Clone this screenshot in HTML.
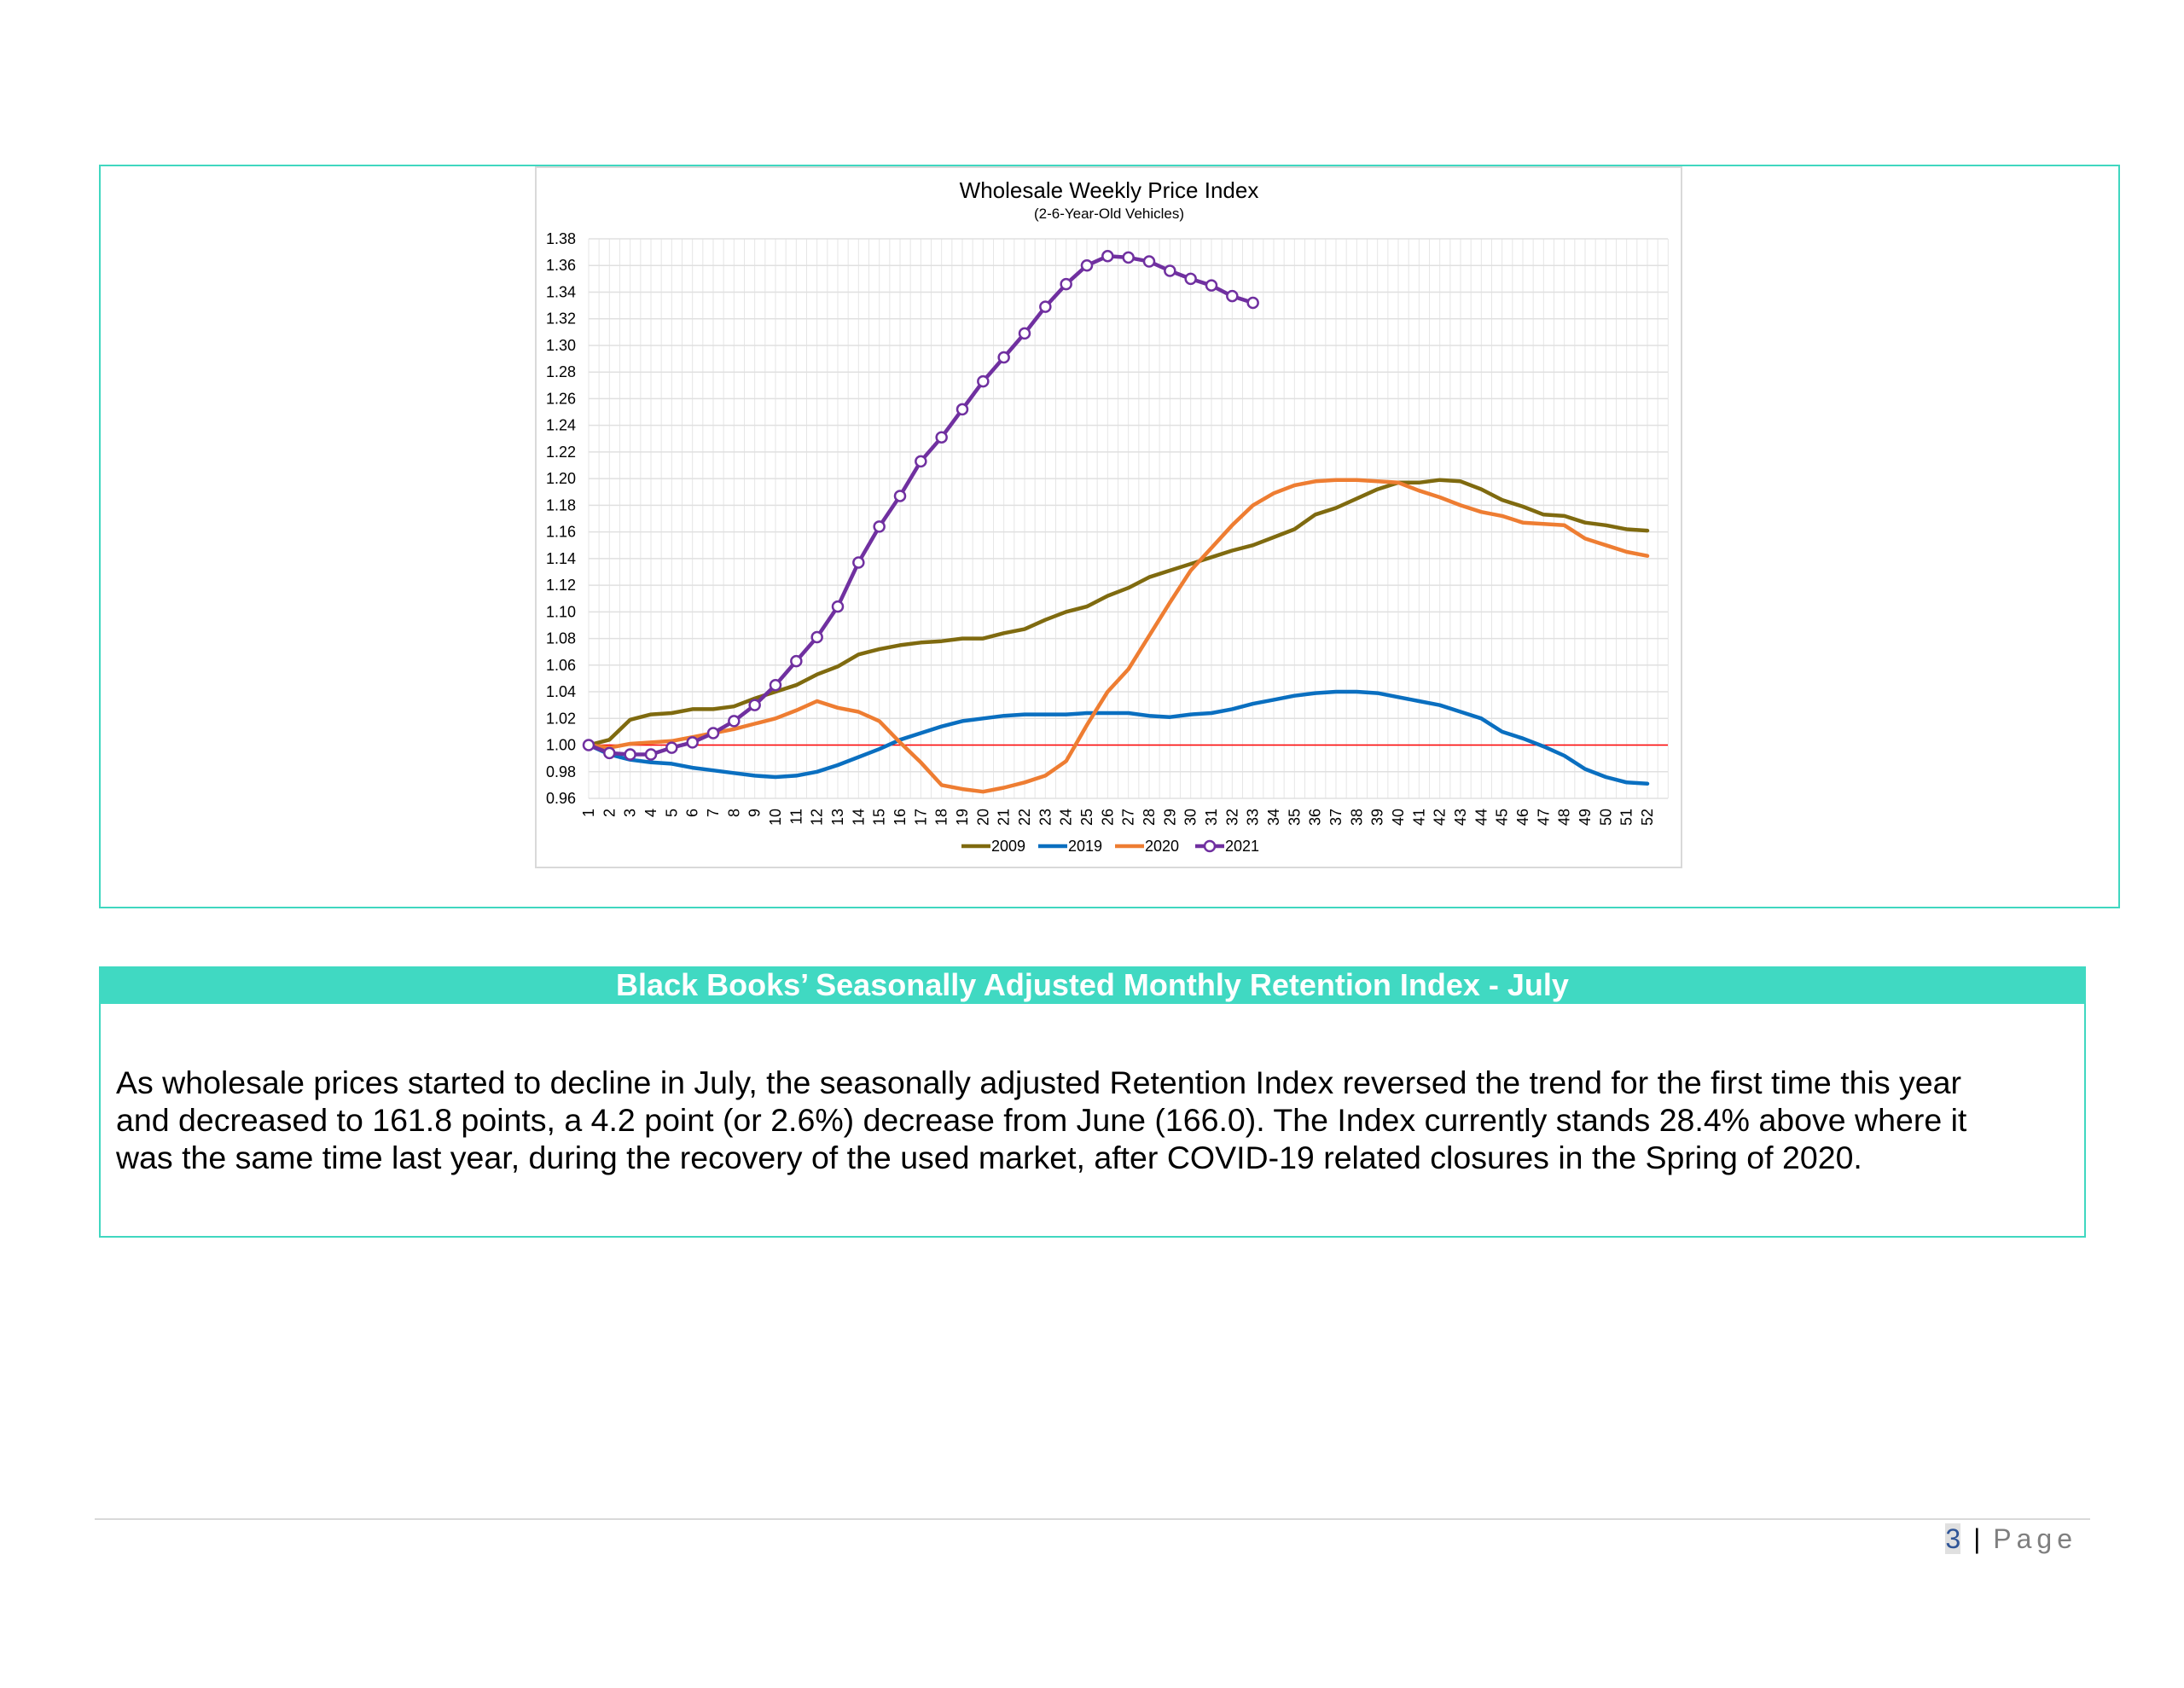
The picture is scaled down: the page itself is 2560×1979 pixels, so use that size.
<!DOCTYPE html>
<html><head><meta charset="utf-8"><style>
html,body{margin:0;padding:0;background:#fff;}
body{width:2560px;height:1979px;position:relative;overflow:hidden;font-family:"Liberation Sans",Arial,sans-serif;}
.abs{position:absolute;}
</style></head><body>
<div class="abs" style="left:116px;top:193px;width:2365px;height:868px;border:2px solid #40d7c0;"></div>
<svg class="abs" style="left:0;top:0" width="2560" height="1979">
<rect x="628" y="196" width="1343" height="821" fill="#fff" stroke="#d9d9d9" stroke-width="2"/>
<text x="1300" y="232" text-anchor="middle" font-size="26" fill="#000">Wholesale Weekly Price Index</text>
<text x="1300" y="256" text-anchor="middle" font-size="17" fill="#000">(2-6-Year-Old Vehicles)</text>
<g id="grid"></g><g id="axes"></g><g id="series"></g><g id="legend"></g>
</svg>
<div class="abs" style="left:116px;top:1133px;width:2329px;height:44px;background:#40d9c2;color:#fff;font-weight:bold;font-size:36px;text-align:center;line-height:44px;">Black Books’ Seasonally Adjusted Monthly Retention Index - July</div>
<div class="abs" style="left:116px;top:1177px;width:2325px;height:272px;border:2px solid #40d7c0;border-top:none;"></div>
<div class="abs" style="left:136px;top:1247px;width:2400px;font-size:37.5px;line-height:44px;color:#000;white-space:nowrap;">As wholesale prices started to decline in July, the seasonally adjusted Retention Index reversed the trend for the first time this year<br>and decreased to 161.8 points, a 4.2 point (or 2.6%) decrease from June (166.0). The Index currently stands 28.4% above where it<br>was the same time last year, during the recovery of the used market, after COVID-19 related closures in the Spring of 2020.</div>
<div class="abs" style="left:111px;top:1780px;width:2339px;height:2px;background:#d9d9d9;"></div>
<div class="abs" style="right:125px;top:1786px;font-size:32px;color:#7f7f7f;letter-spacing:6px;"><span style="color:#2f5597;background:#e0e0e0;letter-spacing:0">3</span> <span style="color:#000;letter-spacing:0">|</span> Page</div>
<script>
const weeks = Array.from({length:52},(_,i)=>i+1);
const yTicks = [0.96,0.98,1.00,1.02,1.04,1.06,1.08,1.10,1.12,1.14,1.16,1.18,1.20,1.22,1.24,1.26,1.28,1.30,1.32,1.34,1.36,1.38];
const s2009 = [1.000,1.004,1.019,1.023,1.024,1.027,1.027,1.029,1.035,1.040,1.045,1.053,1.059,1.068,1.072,1.075,1.077,1.078,1.080,1.080,1.084,1.087,1.094,1.100,1.104,1.112,1.118,1.126,1.131,1.136,1.141,1.146,1.150,1.156,1.162,1.173,1.178,1.185,1.192,1.197,1.197,1.199,1.198,1.192,1.184,1.179,1.173,1.172,1.167,1.165,1.162,1.161];
const s2019 = [1.000,0.993,0.989,0.987,0.986,0.983,0.981,0.979,0.977,0.976,0.977,0.980,0.985,0.991,0.997,1.004,1.009,1.014,1.018,1.020,1.022,1.023,1.023,1.023,1.024,1.024,1.024,1.022,1.021,1.023,1.024,1.027,1.031,1.034,1.037,1.039,1.040,1.040,1.039,1.036,1.033,1.030,1.025,1.020,1.010,1.005,0.999,0.992,0.982,0.976,0.972,0.971];
const s2020 = [1.000,0.998,1.001,1.002,1.003,1.006,1.009,1.012,1.016,1.020,1.026,1.033,1.028,1.025,1.018,1.002,0.987,0.970,0.967,0.965,0.968,0.972,0.977,0.988,1.015,1.040,1.057,1.082,1.107,1.131,1.148,1.165,1.180,1.189,1.195,1.198,1.199,1.199,1.198,1.197,1.191,1.186,1.180,1.175,1.172,1.167,1.166,1.165,1.155,1.150,1.145,1.142];
const s2021 = [1.000,0.994,0.993,0.993,0.998,1.002,1.009,1.018,1.030,1.045,1.063,1.081,1.104,1.137,1.164,1.187,1.213,1.231,1.252,1.273,1.291,1.309,1.329,1.346,1.360,1.367,1.366,1.363,1.356,1.350,1.345,1.337,1.332];
const seriesNames = ['2009','2019','2020','2021'];
const NS='http://www.w3.org/2000/svg';
const X0=690, X1=1931, Y0=936, Y1=280, VMIN=0.96, VMAX=1.38;
const xs = w => X0 + (w-1)*(X1-X0)/51;
const ys = v => Y0 - (v-VMIN)*(Y0-Y1)/(VMAX-VMIN);
function mk(tag, attrs, parent){const e=document.createElementNS(NS,tag);for(const k in attrs)e.setAttribute(k,attrs[k]);parent.appendChild(e);return e;}
const grid=document.getElementById('grid'), axes=document.getElementById('axes'), ser=document.getElementById('series'), leg=document.getElementById('legend');
const plotR = xs(52)+24;
for(let i=0;i<=106;i++){const x=X0+i*(X1-X0)/102; if(x>plotR+0.5)break;
  const l=mk('line',{x1:x,x2:x,y1:Y1,y2:Y0,stroke:'#e6e6e6','stroke-width':1},grid);
  
  }
yTicks.forEach(t=>{
  const l=mk('line',{x1:X0,x2:plotR,y1:ys(t),y2:ys(t),stroke:'#e0e0e0','stroke-width':1.5},grid);
  
  
  const tx=mk('text',{x:675,y:ys(t)+6,'text-anchor':'end','font-size':18,fill:'#000'},axes);
  tx.textContent=t.toFixed(2);
  
  
});
const ref=mk('line',{x1:X0,x2:plotR,y1:ys(1),y2:ys(1),stroke:'#ff0000','stroke-width':1.5},axes);


weeks.forEach(w=>{
  const tx=mk('text',{transform:`translate(${xs(w)+6},948) rotate(-90)`,'text-anchor':'end','font-size':18,fill:'#000'},axes);
  tx.textContent=w;
  
  
});
function line(data,color,name){
  const pts=data.map((v,i)=>xs(i+1).toFixed(1)+','+ys(v).toFixed(1)).join(' ');
  const p=mk('polyline',{points:pts,fill:'none',stroke:color,'stroke-width':4.5,'stroke-linejoin':'round','stroke-linecap':'round'},ser);
  
  
}
line(s2009,'#7f6a0f','line-2009');
line(s2019,'#0a6fc0','line-2019');
line(s2020,'#ee7d32','line-2020');
line(s2021,'#7030a0','line-2021');
s2021.forEach((v,i)=>{
  const c=mk('circle',{cx:xs(i+1),cy:ys(v),r:6,fill:'#fff',stroke:'#7030a0','stroke-width':2.5},ser);
  
  
});
const legColors=['#7f6a0f','#0a6fc0','#ee7d32','#7030a0'];
const legX=[1127,1217,1307,1401];
seriesNames.forEach((n,i)=>{
  const g=mk('g',{},leg);
  
  
  mk('line',{x1:legX[i],x2:legX[i]+34,y1:992,y2:992,stroke:legColors[i],'stroke-width':4.5},g);
  if(i===3) mk('circle',{cx:legX[i]+17,cy:992,r:6,fill:'#fff',stroke:legColors[i],'stroke-width':2.5},g);
  const t=mk('text',{x:legX[i]+35,y:998,'font-size':18,fill:'#000'},g);
  t.textContent=n;
});
</script>
</body></html>
